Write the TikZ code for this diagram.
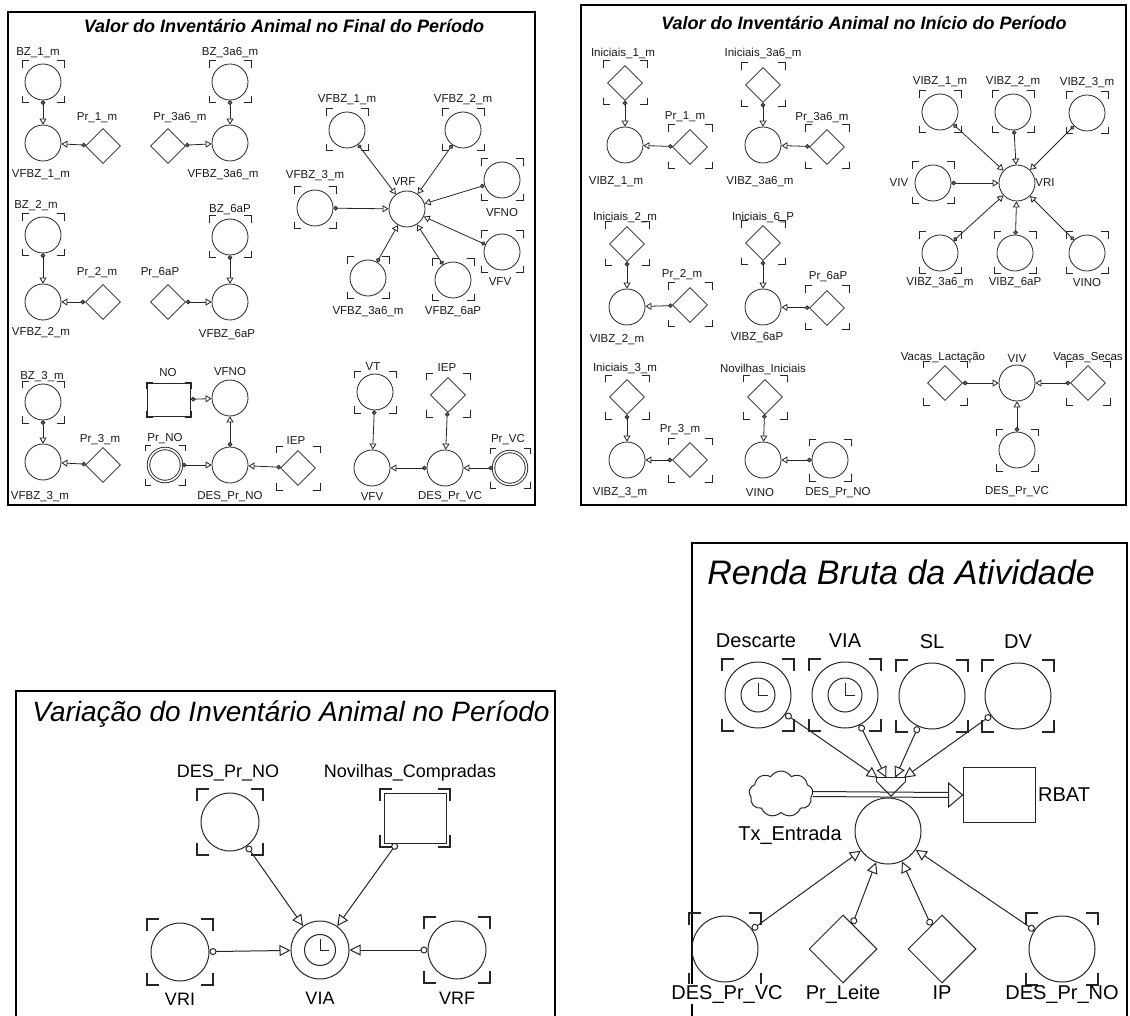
\documentclass[tikz,border=0pt]{standalone}
\usepackage{fontspec}
\setmainfont{Liberation Sans}
\usetikzlibrary{arrows.meta,shapes.geometric,shapes.symbols}

% corner brackets marking an alias (ghost) element: node, half width, half height, arm
\newcommand\gh[5][1pt]{%
  \draw[line width=#1, black!85] ([shift={(-#3,-#4+#5)}]#2.center) -- ++(0,-#5) -- ++(#5,0);
  \draw[line width=#1, black!85] ([shift={(#3-#5,-#4)}]#2.center) -- ++(#5,0) -- ++(0,#5);
  \draw[line width=#1, black!85] ([shift={(#3,#4-#5)}]#2.center) -- ++(0,#5) -- ++(-#5,0);
  \draw[line width=#1, black!85] ([shift={(-#3+#5,#4)}]#2.center) -- ++(-#5,0) -- ++(0,-#5);}
% clock face inside a converter: node, radius
\newcommand\clockface[2]{%
  \draw[line width=1pt, black!85] (#1.center) circle[radius=#2pt];
  \draw[line width=1pt, black!85] ([yshift=0.7*#2 pt]#1.center) -- (#1.center) -- ([xshift=0.6*#2 pt]#1.center);}

\tikzset{
  base/.style={line width=0.8pt, draw=black!85},
  aux/.style={base, circle, minimum size=36pt, inner sep=0pt},
  cst/.style={base, diamond, minimum width=35pt, minimum height=35pt, inner sep=0pt},
  dbl/.style={circle, draw=black!85, double=white, double distance=1.6pt, line width=0.9pt, minimum size=33pt, inner sep=0pt},
  lbl/.style={font=\fontsize{11.5}{12}\selectfont, inner sep=1pt, text=black!90},
  ttl/.style={font=\fontsize{18}{20}\selectfont\bfseries\itshape},
  panelframe/.style={line width=2pt, draw=black},
  cn/.style={base, {Circle[length=4.5pt,width=4.5pt,fill=black!55]}-{Triangle[open,length=6pt,width=7pt]}},
  bbase/.style={line width=1pt, draw=black!85},
  baux/.style={bbase, circle, minimum size=58pt, inner sep=0pt},
  bcst/.style={bbase, diamond, minimum width=68pt, minimum height=68pt, inner sep=0pt},
  blbl/.style={font=\fontsize{18}{20}\selectfont, inner sep=1pt},
  clbl/.style={font=\fontsize{20}{22}\selectfont, inner sep=1pt},
  bcn/.style={bbase, {Circle[open,length=7pt,width=7pt]}-{Triangle[open,length=11pt,width=11pt]}},
}

\begin{document}
\begin{tikzpicture}[x=1pt,y=-1pt]
\useasboundingbox (0,0) rectangle (1130,1016);
\fill[white] (0,0) rectangle (1130,1016);
\clip (0,0) rectangle (1130,1016);

% ---------------- Valor do Inventario Animal no Final do Periodo ----------------
\draw[panelframe] (8,12) rectangle (535,505);
\node[ttl] (t1) at (284,26) {Valor do Inventário Animal no Final do Período};

\node[aux] (bz1) at (43,82) {}; \gh{bz1}{21}{21}{7}
\node[lbl] (lbz1) at (38,53) {BZ\_1\_m};
\node[aux] (vf1) at (43,143) {};
\node[lbl] (lvf1) at (41,175) {VFBZ\_1\_m};
\node[cst] (pr1) at (103,146) {};
\node[lbl] (lpr1) at (97,118) {Pr\_1\_m};
\draw[cn] (bz1) -- (vf1); \draw[cn] (pr1) -- (vf1);

\node[aux] (bz3a6) at (230,82) {}; \gh{bz3a6}{21}{21}{7}
\node[lbl] (lbz3a6) at (230,53) {BZ\_3a6\_m};
\node[aux] (vf3a6) at (230,143) {};
\node[lbl] (lvf3a6) at (223,175) {VFBZ\_3a6\_m};
\node[cst] (pr3a6) at (168,146) {};
\node[lbl] (lpr3a6) at (180,118) {Pr\_3a6\_m};
\draw[cn] (bz3a6) -- (vf3a6); \draw[cn] (pr3a6) -- (vf3a6);

\node[aux] (bz2) at (43,235) {}; \gh{bz2}{21}{21}{7}
\node[lbl] (lbz2) at (36,206) {BZ\_2\_m};
\node[aux] (vf2) at (43,302) {};
\node[lbl] (lvf2) at (41,333) {VFBZ\_2\_m};
\node[cst] (pr2) at (103,302) {};
\node[lbl] (lpr2) at (97,273) {Pr\_2\_m};
\draw[cn] (bz2) -- (vf2); \draw[cn] (pr2) -- (vf2);

\node[aux] (bz6) at (230,237) {}; \gh{bz6}{21}{21}{7}
\node[lbl] (lbz6) at (230,210) {BZ\_6aP};
\node[aux] (vf6) at (230,302) {};
\node[lbl] (lvf6) at (227,335) {VFBZ\_6aP};
\node[cst] (pr6) at (168,302) {};
\node[lbl] (lpr6) at (160,273) {Pr\_6aP};
\draw[cn] (bz6) -- (vf6); \draw[cn] (pr6) -- (vf6);

\node[aux] (bz3) at (43,402) {}; \gh{bz3}{21}{21}{7}
\node[lbl] (lbz3) at (42,377) {BZ\_3\_m};
\node[aux] (vf3) at (43,462) {};
\node[lbl] (lvf3) at (40,497) {VFBZ\_3\_m};
\node[cst] (pr3) at (103,465) {};
\node[lbl] (lpr3) at (100,440) {Pr\_3\_m};
\draw[cn] (bz3) -- (vf3); \draw[cn] (pr3) -- (vf3);

\node[base, rectangle, minimum width=43pt, minimum height=33pt, inner sep=0pt] (no) at (169,400) {};
\gh[1.4pt]{no}{22}{17}{6}
\node[lbl] (lno) at (168,373) {NO};
\node[aux] (vfno) at (230,398) {};
\node[lbl] (lvfno) at (230,372) {VFNO};
\node[dbl] (prno) at (165,465) {}; \gh{prno}{20}{20}{6}
\node[lbl] (lprno) at (165,439) {Pr\_NO};
\node[aux] (desno) at (230,465) {};
\node[lbl] (ldesno) at (230,497) {DES\_Pr\_NO};
\node[cst] (iep1) at (298,468) {}; \gh{iep1}{22}{22}{7}
\node[lbl] (liep1) at (296,441) {IEP};
\draw[cn] (no) -- (vfno); \draw[cn] (desno) -- (vfno);
\draw[cn] (prno) -- (desno); \draw[cn] (iep1) -- (desno);

\node[aux] (vrf) at (407,209) {};
\node[lbl] (lvrf) at (404,182) {VRF};
\node[aux] (avf1) at (347,130) {}; \gh{avf1}{21}{21}{7}
\node[lbl] (lavf1) at (347,100) {VFBZ\_1\_m};
\node[aux] (avf2) at (463,130) {}; \gh{avf2}{21}{21}{7}
\node[lbl] (lavf2) at (463,100) {VFBZ\_2\_m};
\node[aux] (avf3) at (315,208) {}; \gh{avf3}{21}{21}{7}
\node[lbl] (lavf3) at (315,176) {VFBZ\_3\_m};
\node[aux] (avfno) at (502,180) {}; \gh{avfno}{21}{21}{7}
\node[lbl] (lavfno) at (502,213) {VFNO};
\node[aux] (avfv) at (502,252) {}; \gh{avfv}{21}{21}{7}
\node[lbl] (lavfv) at (500,282) {VFV};
\node[aux] (avf3a6) at (368,278) {}; \gh{avf3a6}{21}{21}{7}
\node[lbl] (lavf3a6) at (368,312) {VFBZ\_3a6\_m};
\node[aux] (avf6) at (453,280) {}; \gh{avf6}{21}{21}{7}
\node[lbl] (lavf6) at (453,312) {VFBZ\_6aP};
\foreach \s in {avf1,avf2,avf3,avfno,avfv,avf3a6,avf6} \draw[cn] (\s) -- (vrf);

\node[aux] (vt) at (375,392) {}; \gh{vt}{21}{21}{7}
\node[lbl] (lvt) at (373,367) {VT};
\node[cst] (iep2) at (448,395) {}; \gh{iep2}{22}{22}{7}
\node[lbl] (liep2) at (447,368) {IEP};
\node[aux] (vfv) at (372,468) {};
\node[lbl] (lvfv) at (372,497) {VFV};
\node[aux] (desvc) at (445,468) {};
\node[lbl] (ldesvc) at (450,497) {DES\_Pr\_VC};
\node[dbl] (prvc) at (510,468) {}; \gh{prvc}{20}{20}{6}
\node[lbl] (lprvc) at (508,440) {Pr\_VC};
\draw[cn] (vt) -- (vfv); \draw[cn] (iep2) -- (desvc);
\draw[cn] (desvc) -- (vfv); \draw[cn] (prvc) -- (desvc);

% ---------------- Valor do Inventario Animal no Inicio do Periodo ----------------
\draw[panelframe] (581,5) rectangle (1126,505);
\node[ttl] (t2) at (864,23) {Valor do Inventário Animal no Início do Período};

\node[cst] (ini1) at (625,83) {}; \gh{ini1}{22}{22}{7}
\node[lbl] (lini1) at (623,53) {Iniciais\_1\_m};
\node[aux] (vib1) at (625,145) {};
\node[lbl] (lvib1) at (616,182) {VIBZ\_1\_m};
\node[cst] (ppr1) at (690,147) {}; \gh{ppr1}{22}{22}{7}
\node[lbl] (lppr1) at (685,117) {Pr\_1\_m};
\draw[cn] (ini1) -- (vib1); \draw[cn] (ppr1) -- (vib1);

\node[cst] (ini3a6) at (763,85) {}; \gh{ini3a6}{22}{22}{7}
\node[lbl] (lini3a6) at (763,53) {Iniciais\_3a6\_m};
\node[aux] (vib3a6) at (763,145) {};
\node[lbl] (lvib3a6) at (760,182) {VIBZ\_3a6\_m};
\node[cst] (ppr3a6) at (827,147) {}; \gh{ppr3a6}{22}{22}{7}
\node[lbl] (lppr3a6) at (822,118) {Pr\_3a6\_m};
\draw[cn] (ini3a6) -- (vib3a6); \draw[cn] (ppr3a6) -- (vib3a6);

\node[cst] (ini2) at (627,244) {}; \gh{ini2}{22}{22}{7}
\node[lbl] (lini2) at (625,217) {Iniciais\_2\_m};
\node[aux] (vib2) at (627,307) {};
\node[lbl] (lvib2) at (617,340) {VIBZ\_2\_m};
\node[cst] (ppr2) at (690,305) {}; \gh{ppr2}{22}{22}{7}
\node[lbl] (lppr2) at (682,275) {Pr\_2\_m};
\draw[cn] (ini2) -- (vib2); \draw[cn] (ppr2) -- (vib2);

\node[cst] (ini6) at (763,243) {}; \gh{ini6}{22}{22}{7}
\node[lbl] (lini6) at (763,217) {Iniciais\_6\_P};
\node[aux] (vib6) at (763,307) {};
\node[lbl] (lvib6) at (757,338) {VIBZ\_6aP};
\node[cst] (ppr6) at (827,308) {}; \gh{ppr6}{22}{22}{7}
\node[lbl] (lppr6) at (828,277) {Pr\_6aP};
\draw[cn] (ini6) -- (vib6); \draw[cn] (ppr6) -- (vib6);

\node[cst] (ini3) at (627,397) {}; \gh{ini3}{22}{22}{7}
\node[lbl] (lini3) at (625,368) {Iniciais\_3\_m};
\node[aux] (vib3) at (627,460) {};
\node[lbl] (lvib3) at (620,493) {VIBZ\_3\_m};
\node[cst] (ppr3) at (690,460) {}; \gh{ppr3}{22}{22}{7}
\node[lbl] (lppr3) at (680,430) {Pr\_3\_m};
\draw[cn] (ini3) -- (vib3); \draw[cn] (ppr3) -- (vib3);

\node[cst] (novi) at (765,397) {}; \gh{novi}{22}{22}{7}
\node[lbl] (lnovi) at (763,369) {Novilhas\_Iniciais};
\node[aux] (vino) at (763,460) {};
\node[lbl] (lvino) at (760,493) {VINO};
\node[aux] (desno2) at (830,460) {}; \gh{desno2}{21}{21}{7}
\node[lbl] (ldesno2) at (838,493) {DES\_Pr\_NO};
\draw[cn] (novi) -- (vino); \draw[cn] (desno2) -- (vino);

\node[aux] (vri) at (1017,183) {};
\node[lbl] (lvri) at (1045,183) {VRI};
\node[aux] (b1) at (940,112) {}; \gh{b1}{21}{21}{7}
\node[lbl] (lb1) at (940,82) {VIBZ\_1\_m};
\node[aux] (b2) at (1013,112) {}; \gh{b2}{21}{21}{7}
\node[lbl] (lb2) at (1013,82) {VIBZ\_2\_m};
\node[aux] (b3) at (1087,113) {}; \gh{b3}{21}{21}{7}
\node[lbl] (lb3) at (1087,83) {VIBZ\_3\_m};
\node[aux] (viva) at (933,183) {}; \gh{viva}{21}{21}{7}
\node[lbl] (lviva) at (899,183) {VIV};
\node[aux] (b3a6) at (940,253) {}; \gh{b3a6}{21}{21}{7}
\node[lbl] (lb3a6) at (940,283) {VIBZ\_3a6\_m};
\node[aux] (b6) at (1015,253) {}; \gh{b6}{21}{21}{7}
\node[lbl] (lb6) at (1015,283) {VIBZ\_6aP};
\node[aux] (bno) at (1087,253) {}; \gh{bno}{21}{21}{7}
\node[lbl] (lbno) at (1087,283) {VINO};
\foreach \s in {b1,b2,b3,viva,b3a6,b6,bno} \draw[cn] (\s) -- (vri);

\node[aux] (viv) at (1017,383) {};
\node[lbl] (lviv) at (1017,359) {VIV};
\node[cst] (vl) at (945,383) {}; \gh{vl}{22}{22}{7}
\node[lbl] (lvl) at (943,358) {Vacas\_Lactação};
\node[cst] (vs) at (1088,383) {}; \gh{vs}{22}{22}{7}
\node[lbl] (lvs) at (1088,358) {Vacas\_Secas};
\node[aux] (desvc2) at (1017,450) {}; \gh{desvc2}{21}{21}{7}
\node[lbl] (ldesvc2) at (1017,492) {DES\_Pr\_VC};
\draw[cn] (vl) -- (viv); \draw[cn] (vs) -- (viv); \draw[cn] (desvc2) -- (viv);

% ---------------- Variacao do Inventario Animal no Periodo ----------------
\draw[panelframe] (16,691) rectangle (555,1040);
\node[font=\fontsize{28}{30}\selectfont\itshape] (t3) at (291,714) {Variação do Inventário Animal no Período};

\node[baux] (desno3) at (230,822) {}; \gh[1.2pt]{desno3}{33}{33}{12}
\node[blbl] (ldesno3) at (228,773) {DES\_Pr\_NO};
\node[bbase, rectangle, minimum width=62pt, minimum height=50pt, inner sep=0pt] (novc) at (415,818) {};
\gh[1.4pt]{novc}{35}{29}{12}
\node[blbl] (lnovc) at (410,773) {Novilhas\_Compradas};
\node[baux] (vri3) at (180,952) {}; \gh[1.2pt]{vri3}{33}{33}{12}
\node[blbl] (lvri3) at (180,999) {VRI};
\node[baux] (via3) at (320,950) {}; \clockface{via3}{15.5}
\node[blbl] (lvia3) at (320,998) {VIA};
\node[baux] (vrf3) at (457,950) {}; \gh[1.2pt]{vrf3}{33}{33}{12}
\node[blbl] (lvrf3) at (457,998) {VRF};
\draw[bcn] (desno3) -- (via3); \draw[bcn] (novc) -- (via3);
\draw[bcn] (vri3) -- (via3); \draw[bcn] (vrf3) -- (via3);

% ---------------- Renda Bruta da Atividade ----------------
\draw[panelframe] (692,543) rectangle (1127,1040);
\node[font=\fontsize{34}{36}\selectfont\itshape] (t4) at (901,572) {Renda Bruta da Atividade};

\node[baux, minimum size=66pt] (desc) at (758,695) {}; \clockface{desc}{17} \gh[1.2pt]{desc}{36}{36}{12}
\node[clbl] (ldesc) at (756,641) {Descarte};
\node[baux, minimum size=66pt] (via4) at (845,695) {}; \clockface{via4}{17} \gh[1.2pt]{via4}{36}{36}{12}
\node[clbl] (lvia4) at (845,641) {VIA};
\node[baux, minimum size=66pt] (sl) at (932,696) {}; \gh[1.2pt]{sl}{36}{36}{12}
\node[clbl] (lsl) at (932,642) {SL};
\node[baux, minimum size=66pt] (dv) at (1018,696) {}; \gh[1.2pt]{dv}{36}{36}{12}
\node[clbl] (ldv) at (1018,642) {DV};

\node[bbase, cloud, cloud puffs=9, cloud puff arc=115, aspect=1.45, minimum width=64pt, minimum height=46pt, inner sep=0pt] (cloudn) at (781,794) {};
\node[bbase, rectangle, minimum width=72pt, minimum height=55pt, inner sep=0pt] (rbat) at (999,795) {};
\node[clbl, anchor=west] (lrbat) at (1037,795) {RBAT};
% flow pipe from the cloud into the stock
\draw[bbase] ([yshift=2.5pt]cloudn.east) -- ([xshift=-14pt,yshift=2.5pt]rbat.west);
\draw[bbase] ([yshift=-2.5pt]cloudn.east) -- ([xshift=-14pt,yshift=-2.5pt]rbat.west);
\draw[bbase, fill=white] ([xshift=-14pt,yshift=12pt]rbat.west) -- (rbat.west) -- ([xshift=-14pt,yshift=-12pt]rbat.west) -- cycle;
\node[inner sep=0pt, minimum width=28pt, minimum height=18pt] (valve) at (891,787) {};
\draw[bbase] ([yshift=-4pt]valve.north west) -- (valve.north west) -- (valve.north east) -- ([yshift=-4pt]valve.north east);
\draw[bbase] ([yshift=-4pt]valve.north west) -- (valve.south) -- ([yshift=-4pt]valve.north east);
\node[baux, minimum size=66pt, fill=white] (conv) at (888,831) {};
\node[clbl] (lconv) at (790,835) {Tx\_Entrada};
\foreach \s in {desc,via4,sl,dv} \draw[bcn] (\s) -- (valve);

\node[baux, minimum size=66pt] (desvc4) at (725,949) {}; \gh[1.2pt]{desvc4}{36}{36}{12}
\node[clbl, fill=white] (ldesvc4) at (727,994) {DES\_Pr\_VC};
\node[bcst] (pleite) at (843,949) {};
\node[clbl] (lpleite) at (843,994) {Pr\_Leite};
\node[bcst] (ip) at (942,949) {};
\node[clbl] (lip) at (942,993) {IP};
\node[baux, minimum size=66pt] (desno4) at (1062,949) {}; \gh[1.2pt]{desno4}{36}{36}{12}
\node[clbl] (ldesno4) at (1062,994) {DES\_Pr\_NO};
\foreach \s in {desvc4,pleite,ip,desno4} \draw[bcn] (\s) -- (conv);
\end{tikzpicture}
\end{document}
